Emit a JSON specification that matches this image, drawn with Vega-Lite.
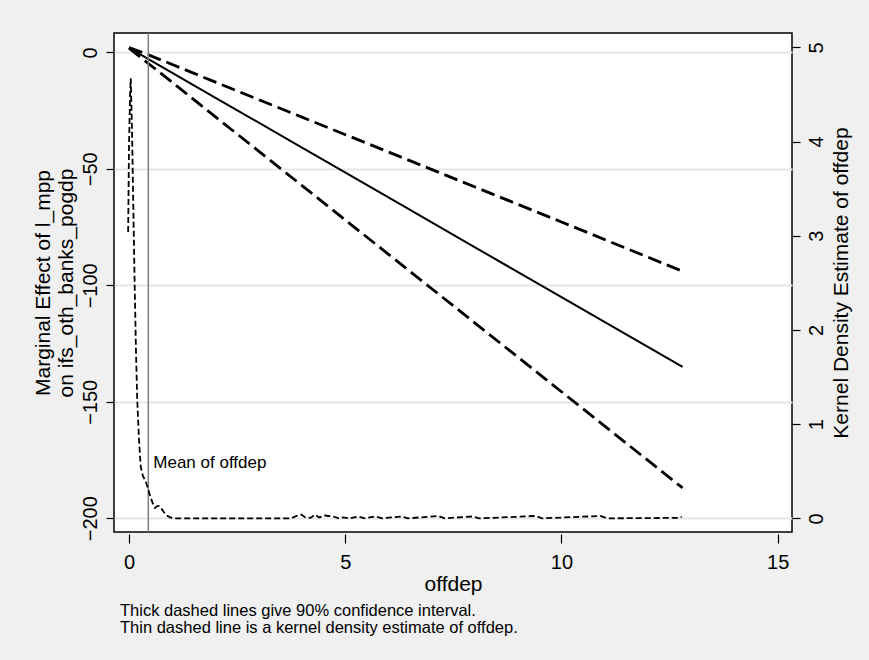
{
  "$schema": "https://vega.github.io/schema/vega-lite/v6.json",
  "width": 678,
  "height": 499,
  "autosize": "none",
  "padding": {"left": 114, "top": 33, "right": 77, "bottom": 128},
  "background": "#f0f0f0",
  "config": {
    "font": "Liberation Sans",
    "view": {"stroke": "#000000", "strokeWidth": 1.5, "fill": "#ffffff"},
    "axis": {"labelColor": "#000000", "titleColor": "#000000", "titleFontWeight": "normal", "tickColor": "#000000", "labelFont": "Liberation Sans", "titleFont": "Liberation Sans"}
  },
  "title": {
    "text": ["Thick dashed lines give 90% confidence interval.", "Thin dashed line is a kernel density estimate of offdep."],
    "orient": "bottom",
    "anchor": "start",
    "frame": "group",
    "fontSize": 16.5,
    "fontWeight": "normal",
    "lineHeight": 17,
    "color": "#000000",
    "font": "Liberation Sans",
    "dx": 6,
    "offset": 9
  },
  "datasets": {
    "me": [
      {"x": 0, "me": 1.9, "hi": 2.0, "lo": 1.8},
      {"x": 0.3, "me": -1.3, "hi": 0.0, "lo": -2.6},
      {"x": 1, "me": -8.8, "hi": -5.2, "lo": -12.9},
      {"x": 2, "me": -19.5, "hi": -12.8, "lo": -27.7},
      {"x": 4, "me": -40.9, "hi": -27.8, "lo": -57.2},
      {"x": 6, "me": -62.3, "hi": -42.8, "lo": -86.7},
      {"x": 8, "me": -83.7, "hi": -57.8, "lo": -116.2},
      {"x": 10, "me": -105.1, "hi": -72.8, "lo": -145.7},
      {"x": 12.8, "me": -135.0, "hi": -94.0, "lo": -187.0}
    ],
    "dens": [
      {"x": -0.02, "d": 3.04}, {"x": 0.0, "d": 3.95}, {"x": 0.025, "d": 4.5}, {"x": 0.04, "d": 4.67},
      {"x": 0.07, "d": 4.1}, {"x": 0.1, "d": 3.3}, {"x": 0.13, "d": 2.5}, {"x": 0.16, "d": 1.8},
      {"x": 0.19, "d": 1.26}, {"x": 0.23, "d": 0.85}, {"x": 0.27, "d": 0.55}, {"x": 0.32, "d": 0.45},
      {"x": 0.38, "d": 0.4}, {"x": 0.43, "d": 0.33}, {"x": 0.48, "d": 0.25}, {"x": 0.54, "d": 0.17},
      {"x": 0.6, "d": 0.11}, {"x": 0.65, "d": 0.13}, {"x": 0.7, "d": 0.13}, {"x": 0.74, "d": 0.11},
      {"x": 0.8, "d": 0.07}, {"x": 0.87, "d": 0.03}, {"x": 0.95, "d": 0.01}, {"x": 1.05, "d": 0.0},
      {"x": 2.0, "d": 0.0}, {"x": 3.0, "d": 0.0}, {"x": 3.75, "d": 0.0}, {"x": 3.9, "d": 0.03},
      {"x": 3.98, "d": 0.04}, {"x": 4.08, "d": 0.01}, {"x": 4.2, "d": 0.005}, {"x": 4.3, "d": 0.04},
      {"x": 4.4, "d": 0.01}, {"x": 4.52, "d": 0.03}, {"x": 4.62, "d": 0.025}, {"x": 4.72, "d": 0.02},
      {"x": 4.85, "d": 0.0}, {"x": 4.95, "d": 0.01}, {"x": 5.1, "d": 0.0}, {"x": 5.3, "d": 0.02},
      {"x": 5.45, "d": 0.0}, {"x": 5.7, "d": 0.02}, {"x": 5.85, "d": 0.0}, {"x": 6.3, "d": 0.02},
      {"x": 6.45, "d": 0.0}, {"x": 7.15, "d": 0.025}, {"x": 7.3, "d": 0.0}, {"x": 7.95, "d": 0.02},
      {"x": 8.1, "d": 0.0}, {"x": 9.4, "d": 0.025}, {"x": 9.55, "d": 0.0}, {"x": 10.9, "d": 0.025},
      {"x": 11.05, "d": 0.0}, {"x": 12.7, "d": 0.005}, {"x": 12.78, "d": 0.015}
    ],
    "mean": [{"x": 0.446, "y": -176.3, "label": "Mean of offdep"}]
  },
  "layer": [
    {
      "data": {"name": "me"},
      "layer": [
        {
          "mark": {"type": "line", "color": "#000000", "strokeWidth": 2, "clip": true},
          "encoding": {
            "x": {"field": "x", "type": "quantitative", "title": "offdep",
              "scale": {"domain": [-0.347, 15.33], "nice": false, "zero": false},
              "axis": {"values": [0, 5, 10, 15], "grid": false, "domain": false, "offset": 2, "tickSize": 9, "tickWidth": 1.2, "labelPadding": 9, "labelFontSize": 20, "titleFontSize": 21, "titlePadding": 1}},
            "y": {"field": "me", "type": "quantitative", "title": ["Marginal Effect of l_mpp", "on ifs_oth_banks_pogdp"],
              "scale": {"domain": [-205.9, 8.3], "nice": false, "zero": false},
              "axis": {"orient": "left", "values": [-200, -150, -100, -50, 0], "grid": true, "gridColor": "#e6e6e6", "gridWidth": 2, "domain": false, "tickSize": 8, "tickWidth": 1.2, "labelAngle": -90, "labelAlign": "center", "labelBaseline": "bottom", "labelPadding": 6, "labelFontSize": 20, "titleFontSize": 21, "titleLineHeight": 23, "titlePadding": 4}}
          }
        },
        {
          "mark": {"type": "line", "color": "#000000", "strokeWidth": 2.8, "strokeDash": [14, 6], "clip": true},
          "encoding": {
            "x": {"field": "x", "type": "quantitative", "title": "offdep"},
            "y": {"field": "hi", "type": "quantitative", "title": ["Marginal Effect of l_mpp", "on ifs_oth_banks_pogdp"]}
          }
        },
        {
          "mark": {"type": "line", "color": "#000000", "strokeWidth": 2.8, "strokeDash": [14, 6], "clip": true},
          "encoding": {
            "x": {"field": "x", "type": "quantitative", "title": "offdep"},
            "y": {"field": "lo", "type": "quantitative", "title": ["Marginal Effect of l_mpp", "on ifs_oth_banks_pogdp"]}
          }
        },
        {
          "data": {"name": "mean"},
          "mark": {"type": "rule", "color": "#808080", "strokeWidth": 1.5},
          "encoding": {
            "x": {"field": "x", "type": "quantitative", "title": "offdep"}
          }
        },
        {
          "data": {"name": "mean"},
          "mark": {"type": "text", "align": "left", "baseline": "middle", "dx": 5, "fontSize": 17, "color": "#000000", "font": "Liberation Sans"},
          "encoding": {
            "x": {"field": "x", "type": "quantitative", "title": "offdep"},
            "y": {"field": "y", "type": "quantitative", "title": ["Marginal Effect of l_mpp", "on ifs_oth_banks_pogdp"]},
            "text": {"field": "label"}
          }
        }
      ]
    },
    {
      "data": {"name": "dens"},
      "mark": {"type": "line", "color": "#000000", "strokeWidth": 1.8, "strokeDash": [6, 3], "clip": true},
      "encoding": {
        "x": {"field": "x", "type": "quantitative", "title": "offdep"},
        "y": {"field": "d", "type": "quantitative", "title": "Kernel Density Estimate of offdep",
          "scale": {"domain": [-0.145, 5.152], "nice": false, "zero": false},
          "axis": {"orient": "right", "values": [0, 1, 2, 3, 4, 5], "grid": false, "domain": false, "tickSize": 8, "tickWidth": 1.2, "labelAngle": -90, "labelAlign": "center", "labelBaseline": "top", "labelPadding": 6, "labelFontSize": 20, "titleFontSize": 21, "titleAngle": -90, "titleBaseline": "top", "titlePadding": 4}}
      }
    }
  ],
  "resolve": {"scale": {"y": "independent"}, "axis": {"y": "independent"}}
}
